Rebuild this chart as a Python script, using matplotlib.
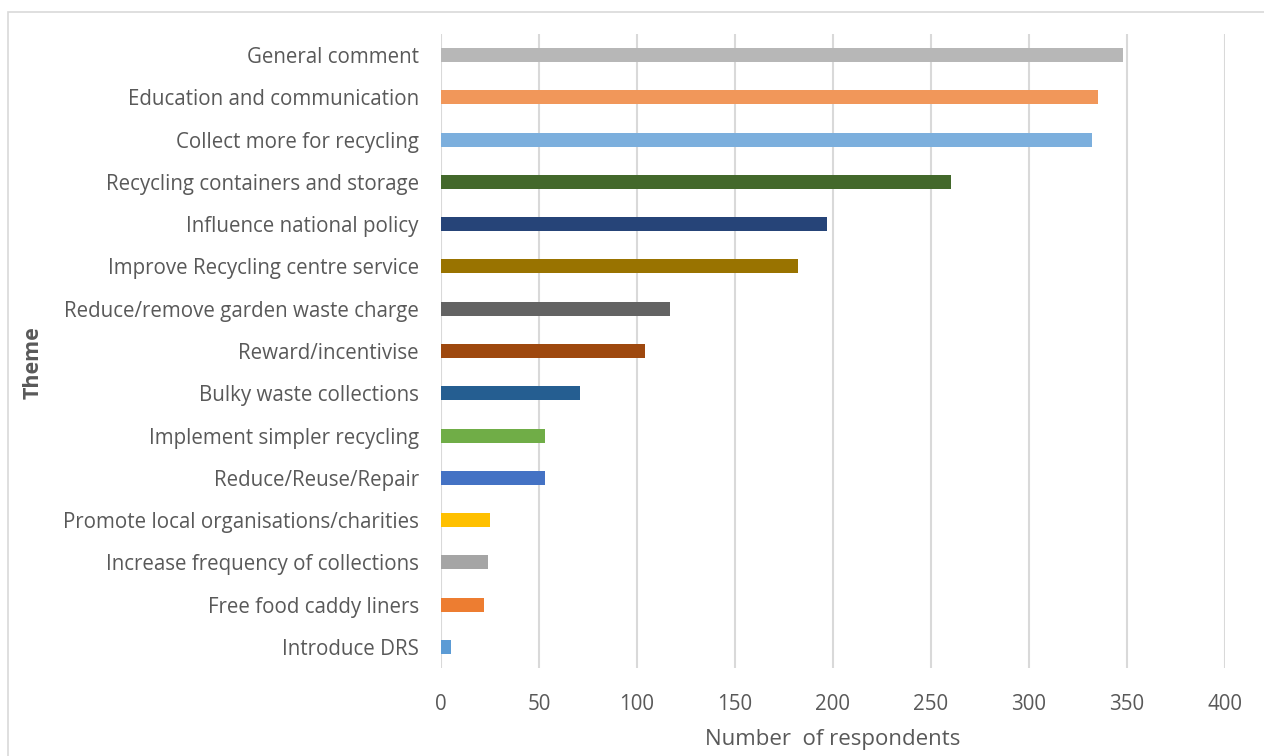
import matplotlib.pyplot as plt
from matplotlib.patches import Rectangle

# data, bottom to top as drawn
themes = ['Introduce DRS', 'Free food caddy liners', 'Increase frequency of collections',
          'Promote local organisations/charities', 'Reduce/Reuse/Repair',
          'Implement simpler recycling', 'Bulky waste collections', 'Reward/incentivise',
          'Reduce/remove garden waste charge', 'Improve Recycling centre service',
          'Influence national policy', 'Recycling containers and storage',
          'Collect more for recycling', 'Education and communication', 'General comment']
respondents = [5, 22, 24, 25, 53, 53, 71, 104, 117, 182, 197, 260, 332, 335, 348]
colors = ['#5B9BD5', '#ED7D31', '#A5A5A5', '#FFC000', '#4472C4', '#70AD47', '#255E91',
          '#9E480E', '#636363', '#997300', '#264478', '#43682B', '#7CAFDD', '#F1975A',
          '#B7B7B7']
x_ticks = [0, 50, 100, 150, 200, 250, 300, 350, 400]

plt.rcParams['font.family'] = ['Open Sans', 'DejaVu Sans']
txt = '#595959'

fig = plt.figure(figsize=(12.64, 7.56), dpi=100)
ax = fig.add_axes([441 / 1264, 1 - 668 / 756, 784 / 1264, 634 / 756])

ax.barh(range(len(themes)), respondents, height=0.33, color=colors, zorder=3)
ax.set_xlim(0, 400)
ax.set_ylim(-0.5, len(themes) - 0.5)
ax.set_xticks(x_ticks)
ax.set_yticks(range(len(themes)))
ax.set_yticklabels(themes)
ax.tick_params(axis='both', length=0, labelsize=14.8, colors=txt)
ax.tick_params(axis='x', pad=19)
ax.tick_params(axis='y', pad=16)
ax.grid(axis='x', color='#D9D9D9', linewidth=1.5, zorder=0)
for s in ax.spines.values():
    s.set_visible(False)

ax.set_xlabel('Number  of respondents', fontsize=16, color=txt, labelpad=10)
fig.text(33 / 1264, 1 - 363 / 756, 'Theme', rotation=90, fontsize=15.5, fontweight='bold',
         color=txt, ha='center', va='center')

# chart area border
fig.patches.append(Rectangle((8 / 1264, -0.01), 1.02, 1 - 12 / 756 + 0.01,
                             transform=fig.transFigure, fill=False,
                             edgecolor='#D9D9D9', linewidth=1.2))

fig.savefig('out.png', dpi=100)
